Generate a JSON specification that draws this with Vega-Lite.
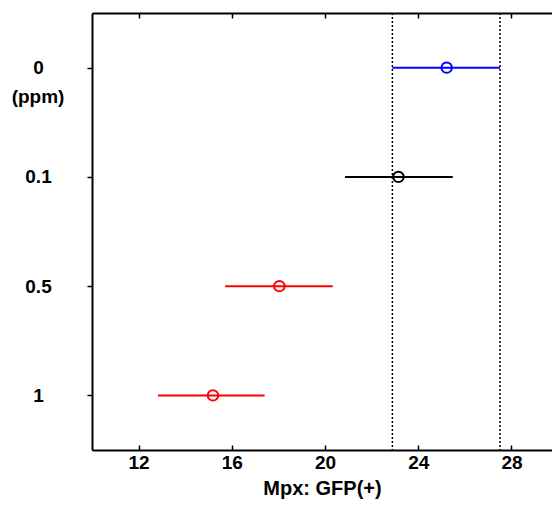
{
  "$schema": "https://vega.github.io/schema/vega-lite/v6.json",
  "width": 460,
  "height": 437,
  "autosize": {"type": "none"},
  "padding": {"left": 92, "top": 13, "right": 0, "bottom": 59},
  "background": "white",
  "config": {
    "view": {"stroke": null},
    "font": "Liberation Sans",
    "axis": {"grid": false, "domainColor": "black", "tickColor": "black", "domainWidth": 2, "tickWidth": 1.5,
      "labelFont": "Liberation Sans", "labelFontWeight": "bold", "labelFontSize": 19, "labelColor": "black",
      "titleFont": "Liberation Sans", "titleFontWeight": "bold", "titleFontSize": 20, "titleColor": "black"}
  },
  "datasets": {
    "est": [
      {"dose": "0", "mean": 25.22, "lo": 22.89, "hi": 27.51},
      {"dose": "0.1", "mean": 23.15, "lo": 20.86, "hi": 25.48},
      {"dose": "0.5", "mean": 18.04, "lo": 15.71, "hi": 20.33},
      {"dose": "1", "mean": 15.19, "lo": 12.83, "hi": 17.41}
    ],
    "refs": [{"x": 22.89}, {"x": 27.51}],
    "unit": [{"dose": "0", "t": "(ppm)"}]
  },
  "layer": [
    {
      "data": {"name": "refs"},
      "mark": {"type": "rule", "color": "black", "strokeWidth": 1.5, "strokeDash": [2, 2]},
      "encoding": {
        "x": {"field": "x", "type": "quantitative", "scale": {"domain": [10, 29.74], "nice": false, "zero": false},
          "axis": {"orient": "top", "values": [12, 16, 20, 24, 28], "labels": false, "title": null, "tickSize": -5}}
      }
    },
    {
      "data": {"name": "est"},
      "mark": {"type": "rule", "strokeWidth": 2},
      "encoding": {
        "y": {"field": "dose", "type": "nominal", "sort": ["0", "0.1", "0.5", "1"],
          "scale": {"type": "point", "padding": 0.5},
          "axis": {"title": null, "tickSize": 5, "labelAlign": "center", "labelPadding": 49, "labelBaseline": "middle"}},
        "x": {"field": "lo", "type": "quantitative",
          "axis": {"orient": "bottom", "values": [12, 16, 20, 24, 28], "tickSize": -5, "labelPadding": 8, "title": "Mpx: GFP(+)", "titlePadding": 6}},
        "x2": {"field": "hi"},
        "color": {"field": "dose", "type": "nominal", "legend": null,
          "scale": {"domain": ["0", "0.1", "0.5", "1"], "range": ["#0000ff", "#000000", "#ff0000", "#ff0000"]}}
      }
    },
    {
      "data": {"name": "est"},
      "mark": {"type": "point", "shape": "circle", "filled": false, "size": 110, "strokeWidth": 2, "opacity": 1},
      "encoding": {
        "y": {"field": "dose", "type": "nominal", "sort": ["0", "0.1", "0.5", "1"]},
        "x": {"field": "mean", "type": "quantitative", "axis": null},
        "color": {"field": "dose", "type": "nominal", "legend": null}
      }
    },
    {
      "data": {"name": "unit"},
      "mark": {"type": "text", "font": "Liberation Sans", "fontWeight": "bold", "fontSize": 19, "color": "black", "align": "center", "baseline": "middle", "dx": -54, "dy": 29, "clip": false},
      "encoding": {
        "y": {"field": "dose", "type": "nominal", "sort": ["0", "0.1", "0.5", "1"]},
        "x": {"datum": 10, "type": "quantitative", "axis": null},
        "text": {"field": "t"}
      }
    }
  ]
}
